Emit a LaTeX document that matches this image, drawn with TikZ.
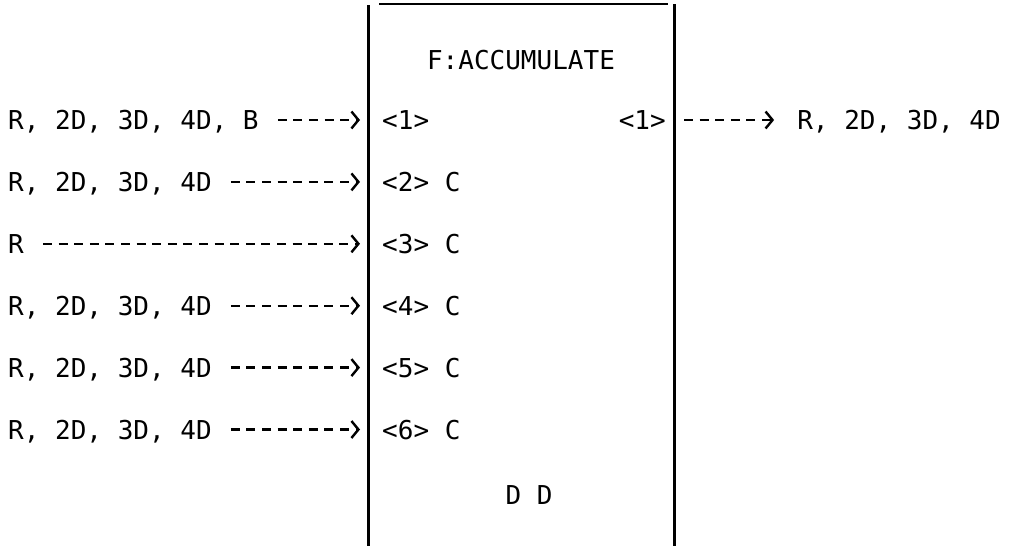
\documentclass[tikz,border=0pt]{standalone}
\usepackage{fontspec}
\setmainfont{DejaVu Sans Mono}
\usetikzlibrary{arrows.meta,positioning}
\tikzset{
  typed/.style={inner sep=0pt, text height=19pt, text depth=0pt,
                font=\fontsize{26}{30}\selectfont},
  port/.style={typed, anchor=west},
  feed/.style={-{Straight Barb[length=7pt,width=17pt]}, line width=2.4pt,
               dash pattern=on 9pt off 6.6pt, shorten <=19pt, shorten >=22pt},
  wall/.style={line width=3pt},
}

\begin{document}
\begin{tikzpicture}[x=1pt, y=-1pt, node distance=42.5pt]
  \useasboundingbox (0,0) rectangle (1013,546);
  % function box (open at the bottom)
  \draw[wall] (368,5) -- (368,546);
  \draw[wall] (674,4) -- (674,546);
  \draw[line width=2pt] (379,4) -- (668,4);
  \node[typed] (title) at (521,60) {F:ACCUMULATE};
  % input ports
  \node[port] (p1) at (382,120) {<1>};
  \node[typed, below=of p1.south west, anchor=north west] (p2) {<2> C};
  \node[typed, below=of p2.south west, anchor=north west] (p3) {<3> C};
  \node[typed, below=of p3.south west, anchor=north west] (p4) {<4> C};
  \node[typed, below=of p4.south west, anchor=north west] (p5) {<5> C};
  \node[typed, below=of p5.south west, anchor=north west] (p6) {<6> C};
  \node[typed] (dd) at (529,495) {D D};
  % input data types
  \node[port] (l1) at (8,120) {R, 2D, 3D, 4D, B};
  \node[port] (l2) at (l1.west |- p2) {R, 2D, 3D, 4D};
  \node[port] (l3) at (l1.west |- p3) {R};
  \node[port] (l4) at (l1.west |- p4) {R, 2D, 3D, 4D};
  \node[port] (l5) at (l1.west |- p5) {R, 2D, 3D, 4D};
  \node[port] (l6) at (l1.west |- p6) {R, 2D, 3D, 4D};
  \foreach \i in {1,...,6}
    \draw[feed] (l\i.east) -- (p\i.west);
  % output
  \node[typed, anchor=east] (q1) at (666,120) {<1>};
  \node[typed, anchor=east] (out) at (1001,120) {R, 2D, 3D, 4D};
  \draw[feed, shorten <=18pt, shorten >=23pt] (q1.east) -- (out.west);
\end{tikzpicture}
\end{document}
